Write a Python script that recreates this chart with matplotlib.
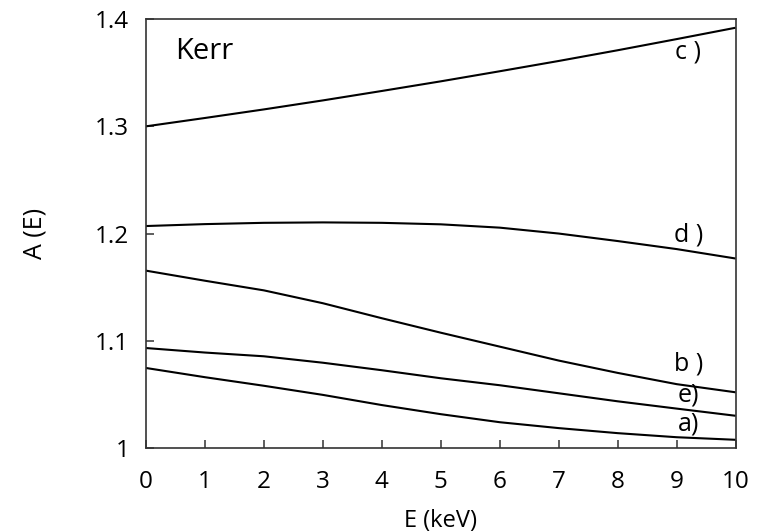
import matplotlib
matplotlib.use("Agg")
import matplotlib.pyplot as plt

plt.rcParams['font.family'] = ['Open Sans', 'DejaVu Sans']

# energy grid (keV)
E = [0, 1, 2, 3, 4, 5, 6, 7, 8, 9, 10]

# A(E) curves
a = [1.0746, 1.066, 1.058, 1.0495, 1.040, 1.0315, 1.024, 1.0185, 1.0138, 1.010, 1.0076]
b = [1.1654, 1.156, 1.147, 1.135, 1.121, 1.1075, 1.0945, 1.0815, 1.070, 1.0595, 1.0519]
c = [1.300, 1.3078, 1.3158, 1.3242, 1.333, 1.342, 1.3514, 1.361, 1.371, 1.3814, 1.392]
d = [1.207, 1.2088, 1.2100, 1.2104, 1.2100, 1.2086, 1.2055, 1.2000, 1.1930, 1.1855, 1.1767]
e = [1.0932, 1.089, 1.0855, 1.0795, 1.0725, 1.065, 1.0585, 1.051, 1.0435, 1.0367, 1.030]

curves = [a, b, c, d, e]
labels = ['a)', 'b )', 'c )', 'd )', 'e)']
label_y = [1.0223, 1.0786, 1.369, 1.1982, 1.0493]

xticks = [0, 1, 2, 3, 4, 5, 6, 7, 8, 9, 10]
yticks = [1.0, 1.1, 1.2, 1.3, 1.4]
yticklabels = ['1', '1.1', '1.2', '1.3', '1.4']

fig = plt.figure(figsize=(7.6, 5.32), dpi=100)
ax = fig.add_axes([0.192, 0.158, 0.776, 0.806])

for ys in curves:
    ax.plot(E, ys, color='black', lw=1.5, solid_capstyle='butt')

for lab, ly in zip(labels, label_y):
    ax.text(9.2, ly, lab, fontsize=18, ha='center', va='center')

ax.text(0.5, 1.370, 'Kerr', fontsize=21, ha='left', va='center')

ax.set_xlim(0, 10)
ax.set_ylim(1.0, 1.4)
ax.set_xticks(xticks)
ax.set_yticks(yticks)
ax.set_yticklabels(yticklabels)
ax.tick_params(direction='in', length=6, width=1.1, labelsize=17.5, color='#333333')
ax.tick_params(axis='x', pad=16)
ax.tick_params(axis='y', pad=12)
for sp in ax.spines.values():
    sp.set_linewidth(1.2)
    sp.set_color('#333333')

ax.set_xlabel('E (keV)', fontsize=17, labelpad=11)
ax.set_ylabel('A (E)', fontsize=18, labelpad=34)

fig.savefig('out.png', dpi=100)
